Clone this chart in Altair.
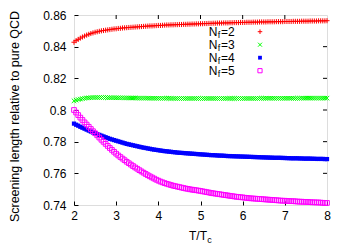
import altair as alt
import pandas as pd

# ---- data ----
T = [2.00, 2.05, 2.10, 2.15, 2.20, 2.25, 2.30, 2.35, 2.40, 2.45,
     2.50, 2.55, 2.60, 2.65, 2.70, 2.75, 2.80, 2.85, 2.90, 2.95,
     3.00, 3.05, 3.10, 3.15, 3.20, 3.25, 3.30, 3.35, 3.40, 3.45,
     3.50, 3.55, 3.60, 3.65, 3.70, 3.75, 3.80, 3.85, 3.90, 3.95,
     4.00, 4.05, 4.10, 4.15, 4.20, 4.25, 4.30, 4.35, 4.40, 4.45,
     4.50, 4.55, 4.60, 4.65, 4.70, 4.75, 4.80, 4.85, 4.90, 4.95,
     5.00, 5.05, 5.10, 5.15, 5.20, 5.25, 5.30, 5.35, 5.40, 5.45,
     5.50, 5.55, 5.60, 5.65, 5.70, 5.75, 5.80, 5.85, 5.90, 5.95,
     6.00, 6.05, 6.10, 6.15, 6.20, 6.25, 6.30, 6.35, 6.40, 6.45,
     6.50, 6.55, 6.60, 6.65, 6.70, 6.75, 6.80, 6.85, 6.90, 6.95,
     7.00, 7.05, 7.10, 7.15, 7.20, 7.25, 7.30, 7.35, 7.40, 7.45,
     7.50, 7.55, 7.60, 7.65, 7.70, 7.75, 7.80, 7.85, 7.90, 7.95,
     8.00]

nf2 = [0.8428, 0.8438, 0.8446, 0.8454, 0.8461, 0.8467, 0.8473, 0.8478, 0.8483, 0.8487,
       0.8491, 0.8494, 0.8497, 0.8500, 0.8502, 0.8504, 0.8506, 0.8508, 0.8510, 0.8512,
       0.8513, 0.8515, 0.8516, 0.8518, 0.8519, 0.8520, 0.8521, 0.8522, 0.8523, 0.8524,
       0.8525, 0.8526, 0.8527, 0.8528, 0.8529, 0.8530, 0.8531, 0.8531, 0.8532, 0.8533,
       0.8534, 0.8534, 0.8535, 0.8536, 0.8537, 0.8537, 0.8538, 0.8538, 0.8539, 0.8539,
       0.8540, 0.8540, 0.8541, 0.8541, 0.8542, 0.8542, 0.8543, 0.8543, 0.8544, 0.8544,
       0.8545, 0.8545, 0.8546, 0.8546, 0.8547, 0.8547, 0.8548, 0.8548, 0.8549, 0.8549,
       0.8549, 0.8550, 0.8550, 0.8550, 0.8551, 0.8551, 0.8552, 0.8552, 0.8552, 0.8553,
       0.8553, 0.8553, 0.8554, 0.8554, 0.8554, 0.8555, 0.8555, 0.8555, 0.8556, 0.8556,
       0.8556, 0.8556, 0.8557, 0.8557, 0.8557, 0.8557, 0.8558, 0.8558, 0.8558, 0.8558,
       0.8559, 0.8559, 0.8559, 0.8559, 0.8560, 0.8560, 0.8560, 0.8560, 0.8561, 0.8561,
       0.8561, 0.8561, 0.8562, 0.8562, 0.8562, 0.8562, 0.8563, 0.8563, 0.8563, 0.8563,
       0.8564]

nf3 = [0.8058, 0.8062, 0.8066, 0.8069, 0.8072, 0.8074, 0.8076, 0.8077, 0.8078, 0.8079,
       0.8079, 0.8079, 0.8079, 0.8079, 0.8079, 0.8079, 0.8078, 0.8078, 0.8078, 0.8078,
       0.8077, 0.8077, 0.8077, 0.8077, 0.8076, 0.8076, 0.8076, 0.8076, 0.8076, 0.8076,
       0.8075, 0.8075, 0.8075, 0.8075, 0.8075, 0.8075, 0.8074, 0.8074, 0.8074, 0.8074,
       0.8074, 0.8074, 0.8074, 0.8074, 0.8074, 0.8074, 0.8073, 0.8073, 0.8073, 0.8073,
       0.8073, 0.8073, 0.8073, 0.8073, 0.8073, 0.8073, 0.8073, 0.8073, 0.8073, 0.8073,
       0.8073, 0.8073, 0.8073, 0.8073, 0.8073, 0.8073, 0.8073, 0.8073, 0.8073, 0.8073,
       0.8073, 0.8073, 0.8073, 0.8073, 0.8073, 0.8073, 0.8073, 0.8073, 0.8073, 0.8073,
       0.8073, 0.8073, 0.8073, 0.8073, 0.8073, 0.8073, 0.8073, 0.8073, 0.8074, 0.8074,
       0.8074, 0.8074, 0.8074, 0.8074, 0.8074, 0.8074, 0.8074, 0.8074, 0.8074, 0.8074,
       0.8074, 0.8074, 0.8074, 0.8074, 0.8074, 0.8074, 0.8074, 0.8074, 0.8075, 0.8075,
       0.8075, 0.8075, 0.8075, 0.8075, 0.8075, 0.8075, 0.8075, 0.8075, 0.8075, 0.8075,
       0.8075]

nf4 = [0.7914, 0.7907, 0.7901, 0.7894, 0.7888, 0.7882, 0.7876, 0.7870, 0.7864, 0.7858,
       0.7853, 0.7848, 0.7843, 0.7838, 0.7833, 0.7828, 0.7823, 0.7818, 0.7814, 0.7810,
       0.7806, 0.7802, 0.7798, 0.7794, 0.7790, 0.7786, 0.7783, 0.7780, 0.7777, 0.7774,
       0.7771, 0.7768, 0.7765, 0.7762, 0.7760, 0.7757, 0.7755, 0.7752, 0.7750, 0.7748,
       0.7746, 0.7744, 0.7742, 0.7740, 0.7739, 0.7737, 0.7736, 0.7734, 0.7733, 0.7731,
       0.7730, 0.7729, 0.7728, 0.7727, 0.7726, 0.7725, 0.7724, 0.7723, 0.7722, 0.7721,
       0.7720, 0.7719, 0.7718, 0.7717, 0.7716, 0.7715, 0.7715, 0.7714, 0.7713, 0.7712,
       0.7712, 0.7711, 0.7710, 0.7709, 0.7709, 0.7708, 0.7708, 0.7707, 0.7707, 0.7706,
       0.7706, 0.7705, 0.7705, 0.7704, 0.7704, 0.7703, 0.7703, 0.7702, 0.7702, 0.7701,
       0.7701, 0.7700, 0.7700, 0.7699, 0.7699, 0.7698, 0.7698, 0.7698, 0.7698, 0.7697,
       0.7697, 0.7696, 0.7696, 0.7695, 0.7695, 0.7695, 0.7695, 0.7694, 0.7694, 0.7693,
       0.7693, 0.7693, 0.7693, 0.7692, 0.7692, 0.7691, 0.7691, 0.7691, 0.7691, 0.7690,
       0.7690]

nf5 = [0.8000, 0.7984, 0.7968, 0.7952, 0.7937, 0.7922, 0.7908, 0.7894, 0.7880, 0.7866,
       0.7853, 0.7840, 0.7826, 0.7812, 0.7799, 0.7786, 0.7773, 0.7760, 0.7748, 0.7736,
       0.7724, 0.7713, 0.7703, 0.7693, 0.7683, 0.7673, 0.7664, 0.7655, 0.7646, 0.7637,
       0.7629, 0.7620, 0.7612, 0.7604, 0.7596, 0.7588, 0.7581, 0.7574, 0.7567, 0.7560,
       0.7554, 0.7548, 0.7543, 0.7538, 0.7534, 0.7530, 0.7526, 0.7522, 0.7519, 0.7516,
       0.7513, 0.7510, 0.7507, 0.7504, 0.7502, 0.7499, 0.7497, 0.7495, 0.7493, 0.7491,
       0.7489, 0.7486, 0.7484, 0.7481, 0.7479, 0.7476, 0.7474, 0.7472, 0.7470, 0.7468,
       0.7466, 0.7464, 0.7462, 0.7460, 0.7458, 0.7456, 0.7454, 0.7452, 0.7451, 0.7449,
       0.7448, 0.7446, 0.7445, 0.7443, 0.7442, 0.7441, 0.7440, 0.7439, 0.7438, 0.7437,
       0.7436, 0.7435, 0.7434, 0.7433, 0.7432, 0.7431, 0.7430, 0.7429, 0.7428, 0.7427,
       0.7427, 0.7426, 0.7425, 0.7424, 0.7424, 0.7423, 0.7422, 0.7421, 0.7421, 0.7420,
       0.7420, 0.7419, 0.7418, 0.7417, 0.7417, 0.7416, 0.7416, 0.7415, 0.7414, 0.7413,
       0.7413]

nf_labels = ["2", "3", "4", "5"]
series_values = [nf2, nf3, nf4, nf5]
colors = ["#ff0000", "#00ff00", "#0000ff", "#ff00ff"]

x_ticks = [2, 3, 4, 5, 6, 7, 8]
y_ticks = [0.74, 0.76, 0.78, 0.80, 0.82, 0.84, 0.86]
x_mirror_ticks = [3, 4, 5, 6, 7]
y_mirror_ticks = [0.76, 0.78, 0.80, 0.82, 0.84]

y_title = "Screening length relative to pure QCD"

# ---- styling ----
FONT = "Liberation Sans"
W, H = 253, 190
PLUS = "M-1,0L1,0M0,-1L0,1"
CROSS = "M-1,-1L1,1M-1,1L1,-1"
styles = [
    dict(shape=PLUS, size=26, filled=False),
    dict(shape=CROSS, size=20, filled=False),
    dict(shape="square", size=18, filled=True),
    dict(shape="square", size=22, filled=False),
]

xs = alt.Scale(domain=[2, 8], nice=False, zero=False)
ys = alt.Scale(domain=[0.74, 0.86], nice=False, zero=False)

xaxis = alt.Axis(values=x_ticks, title=None, grid=False, domain=False,
                 offset=-4, tickSize=4, tickColor="black", tickWidth=1,
                 labelFontSize=12, labelFont=FONT, labelColor="black",
                 labelPadding=5, labelFlush=False, format="d")
yaxis = alt.Axis(values=y_ticks, title=y_title, grid=False, domain=False,
                 offset=-4, tickSize=4, tickColor="black", tickWidth=1,
                 labelFontSize=12, labelFont=FONT, labelColor="black",
                 labelPadding=8, labelFlush=False, format="~g",
                 titleFont=FONT, titleFontSize=12.5, titleFontWeight="normal",
                 titleColor="black", titlePadding=21, titleY=101)

rows = []
for lab, vals in zip(nf_labels, series_values):
    for t, v in zip(T, vals):
        rows.append({"series": lab, "T": t, "v": v})
df = pd.DataFrame(rows)

layers = []
for i, (lab, col, st) in enumerate(zip(nf_labels, colors, styles)):
    layers.append(
        alt.Chart(df).transform_filter(alt.datum.series == lab)
        .mark_point(shape=st["shape"], size=st["size"], filled=st["filled"],
                    color=col, strokeWidth=1, opacity=1)
        .encode(x=alt.X("T:Q", scale=xs, axis=xaxis),
                y=alt.Y("v:Q", scale=ys, axis=yaxis))
    )

# mirrored inward ticks on the top and right borders
right_ticks = alt.Chart(pd.DataFrame({"yt": y_mirror_ticks})).mark_rule(
    color="black", strokeWidth=1).encode(
    y=alt.Y("yt:Q", scale=ys, axis=yaxis), x=alt.value(W), x2=alt.value(W - 4))
top_ticks = alt.Chart(pd.DataFrame({"xt": x_mirror_ticks})).mark_rule(
    color="black", strokeWidth=1).encode(
    x=alt.X("xt:Q", scale=xs, axis=xaxis), y=alt.value(0), y2=alt.value(4))
layers += [right_ticks, top_ticks]

# legend (inside, top right) with subscripts
for i, (lab, col, st) in enumerate(zip(nf_labels, colors, styles)):
    ly = 16.7 + 13 * i
    base = alt.Chart(pd.DataFrame({"lab": [lab]}))
    layers.append(base.mark_text(align="right", baseline="middle", font=FONT,
                                 fontSize=12, color="black")
                  .encode(x=alt.value(143.5), y=alt.value(ly), text=alt.value("N")))
    layers.append(base.mark_text(align="left", baseline="middle", font=FONT,
                                 fontSize=9, color="black")
                  .encode(x=alt.value(143.7), y=alt.value(ly + 3.5), text=alt.value("f")))
    layers.append(base.mark_text(align="left", baseline="middle", font=FONT,
                                 fontSize=12, color="black")
                  .encode(x=alt.value(147), y=alt.value(ly),
                          text=alt.Text("eqlab:N"))
                  .transform_calculate(eqlab="'=' + datum.lab"))
    layers.append(base.mark_point(shape=st["shape"], size=st["size"] * 0.8,
                                  filled=st["filled"], color=col, strokeWidth=1,
                                  opacity=1)
                  .encode(x=alt.value(186), y=alt.value(ly)))

# x-axis title T/T_c
xt = alt.Chart(pd.DataFrame({"a": [0]}))
layers.append(xt.mark_text(align="left", baseline="alphabetic", font=FONT,
                           fontSize=12, color="black")
              .encode(x=alt.value(115), y=alt.value(224.5), text=alt.value("T/T")))
layers.append(xt.mark_text(align="left", baseline="alphabetic", font=FONT,
                           fontSize=9, color="black")
              .encode(x=alt.value(133.2), y=alt.value(227.5), text=alt.value("c")))

chart = alt.layer(*layers).properties(
    width=W, height=H,
    autosize=alt.AutoSizeParams(type="none"),
    padding={"left": 66, "top": 7, "right": 15, "bottom": 39},
).configure_view(stroke="black", strokeWidth=1.5).configure(background="white")

chart.save("out.html", embed_options={"renderer": "svg", "actions": False})
